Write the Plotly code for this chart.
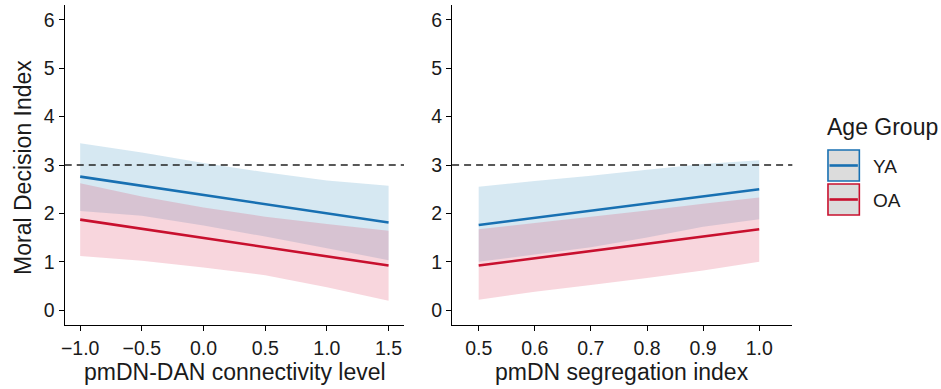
import plotly.graph_objects as go

W, H = 941, 389

# ---------------- data ----------------
x_left = [-1.0, -0.5, 0.0, 0.5, 1.0, 1.5]
ya_left_fit = [2.76, 2.57, 2.38, 2.19, 2.00, 1.81]
ya_left_hi = [3.45, 3.26, 3.04, 2.85, 2.68, 2.57]
ya_left_lo = [2.05, 1.95, 1.75, 1.52, 1.28, 1.03]
oa_left_fit = [1.87, 1.68, 1.49, 1.30, 1.11, 0.92]
oa_left_hi = [2.62, 2.35, 2.12, 1.93, 1.78, 1.64]
oa_left_lo = [1.12, 1.02, 0.88, 0.72, 0.47, 0.19]

x_right = [0.5, 0.6, 0.7, 0.8, 0.9, 1.0]
ya_right_fit = [1.76, 1.91, 2.06, 2.20, 2.35, 2.50]
ya_right_hi = [2.55, 2.67, 2.78, 2.90, 3.02, 3.10]
ya_right_lo = [1.00, 1.15, 1.30, 1.50, 1.72, 1.88]
oa_right_fit = [0.92, 1.07, 1.22, 1.37, 1.52, 1.67]
oa_right_hi = [1.67, 1.80, 1.93, 2.06, 2.20, 2.33]
oa_right_lo = [0.21, 0.38, 0.52, 0.66, 0.82, 1.00]

reference_line = 3
groups = ["YA", "OA"]
y_ticks = [0, 1, 2, 3, 4, 5, 6]
x_left_ticks = [-1.0, -0.5, 0.0, 0.5, 1.0, 1.5]
x_left_labels = ["\u22121.0", "\u22120.5", "0.0", "0.5", "1.0", "1.5"]
x_right_ticks = [0.5, 0.6, 0.7, 0.8, 0.9, 1.0]
x_right_labels = ["0.5", "0.6", "0.7", "0.8", "0.9", "1.0"]
x_left_title = "pmDN-DAN connectivity level"
x_right_title = "pmDN segregation index"
y_title = "Moral Decision Index"
legend_title = "Age Group"

# ---------------- style ----------------
FONT = "Liberation Sans, Arial, sans-serif"
line_col = {"YA": "#1870b2", "OA": "#c8102e"}
fill_col = {"YA": "rgba(50,140,190,0.2)", "OA": "rgba(220,50,85,0.2)"}
TXT = "#1a1a1a"

def px(x):
    return x / W

def py(y):
    return 1 - y / H

fig = go.Figure()

panels = [
    ("x", "y", x_left, {"YA": (ya_left_fit, ya_left_hi, ya_left_lo),
                        "OA": (oa_left_fit, oa_left_hi, oa_left_lo)}),
    ("x2", "y2", x_right, {"YA": (ya_right_fit, ya_right_hi, ya_right_lo),
                           "OA": (oa_right_fit, oa_right_hi, oa_right_lo)}),
]

for xa, ya, xs, series in panels:
    for g in groups:
        fit, hi, lo = series[g]
        fig.add_trace(go.Scatter(
            x=list(xs) + list(xs)[::-1], y=list(hi) + list(lo)[::-1],
            xaxis=xa, yaxis=ya, mode="none", fill="toself",
            fillcolor=fill_col[g], hoverinfo="skip", showlegend=False))
    for g in groups:
        fit, hi, lo = series[g]
        fig.add_trace(go.Scatter(
            x=xs, y=fit, xaxis=xa, yaxis=ya, mode="lines",
            line=dict(color=line_col[g], width=2.6), name=g, showlegend=False))

# dashed reference line
for xref in ["x domain", "x2 domain"]:
    yref = "y" if xref == "x domain" else "y2"
    fig.add_shape(type="line", xref=xref, yref=yref, x0=0, x1=1,
                  y0=reference_line, y1=reference_line,
                  line=dict(color="#222222", width=1.4, dash="7px,5px"))

axis_common = dict(showgrid=False, zeroline=False, showline=True, linecolor="black",
                   linewidth=1.3, ticks="outside", ticklen=5, tickwidth=1.3,
                   tickcolor="black", tickfont=dict(family=FONT, size=19.5, color=TXT))

left_dom = [px(61), px(401.7)]
right_dom = [px(450), px(791.7)]
y_dom = [py(325), py(5)]

fig.update_layout(
    width=W, height=H, margin=dict(l=0, r=0, t=0, b=0),
    paper_bgcolor="white", plot_bgcolor="white", showlegend=False,
    xaxis=dict(domain=left_dom, range=[-1.125, 1.625], tickvals=x_left_ticks,
               ticktext=x_left_labels, anchor="y", **axis_common),
    yaxis=dict(domain=y_dom, range=[-0.31, 6.31], tickvals=y_ticks, anchor="x",
               **axis_common),
    xaxis2=dict(domain=right_dom, range=[0.4526, 1.059], tickvals=x_right_ticks,
                ticktext=x_right_labels, anchor="y2", **axis_common),
    yaxis2=dict(domain=y_dom, range=[-0.31, 6.31], tickvals=y_ticks, anchor="x2",
                **axis_common),
)

ann = []
ann.append(dict(text=x_left_title, x=px(231.5), y=py(372), xref="paper", yref="paper",
                showarrow=False, xanchor="center", yanchor="middle",
                font=dict(family=FONT, size=23, color=TXT)))
ann.append(dict(text=x_right_title, x=px(620.5), y=py(372), xref="paper", yref="paper",
                showarrow=False, xanchor="center", yanchor="middle",
                font=dict(family=FONT, size=23, color=TXT)))
ann.append(dict(text=y_title, x=px(19), y=py(167), xref="paper", yref="paper",
                showarrow=False, xanchor="center", yanchor="middle", textangle=-90,
                font=dict(family=FONT, size=23, color=TXT)))

# legend (manual)
ann.append(dict(text=legend_title, x=px(825), y=py(127), xref="paper", yref="paper",
                showarrow=False, xanchor="left", yanchor="middle",
                font=dict(family=FONT, size=23, color=TXT)))
key_tops = [150, 184]
for g, top in zip(groups, key_tops):
    fig.add_shape(type="rect", xref="paper", yref="paper",
                  x0=px(827.5), x1=px(859), y0=py(top + 31), y1=py(top),
                  fillcolor="#dcdcdc", line=dict(color=line_col[g], width=1.6))
    fig.add_shape(type="line", xref="paper", yref="paper",
                  x0=px(829), x1=px(857.5), y0=py(top + 15.5), y1=py(top + 15.5),
                  line=dict(color=line_col[g], width=2.6))
    ann.append(dict(text=g, x=px(871), y=py(top + 16), xref="paper", yref="paper",
                    showarrow=False, xanchor="left", yanchor="middle",
                    font=dict(family=FONT, size=19, color=TXT)))

fig.update_layout(annotations=ann)
fig.write_html("out.html", config={"displayModeBar": False},
               post_script="document.body.style.margin='0px';")
